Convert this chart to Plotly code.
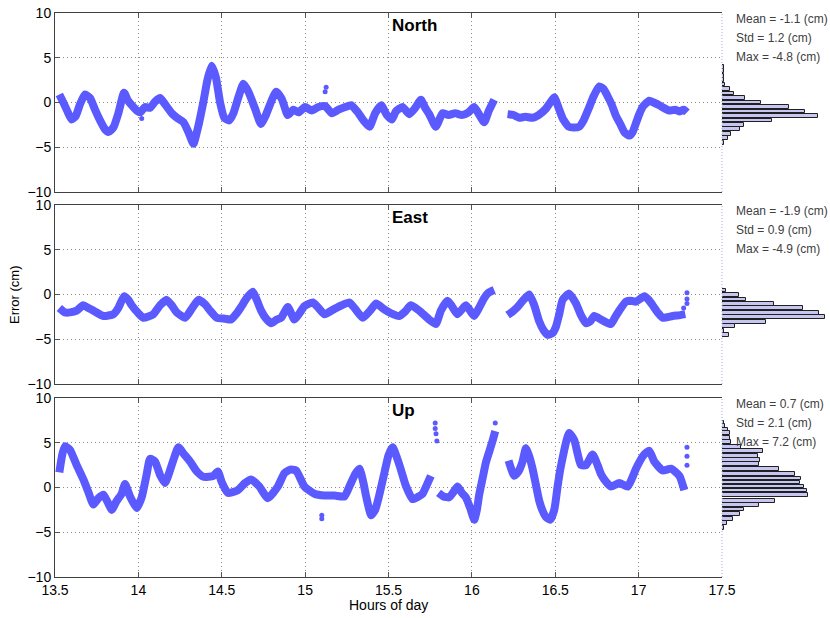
import plotly.graph_objects as go

# ---------------- data ----------------
north_t = [13.526, 13.55, 13.575, 13.60, 13.625, 13.65, 13.68, 13.71, 13.74, 13.77, 13.80, 13.82, 13.85, 13.88,
           13.914, 13.935, 13.96, 13.99, 14.01, 14.04, 14.07, 14.10, 14.13, 14.16, 14.20, 14.23, 14.27, 14.30,
           14.33, 14.36, 14.39, 14.415, 14.44, 14.465, 14.49, 14.515, 14.545, 14.57, 14.60, 14.63, 14.66, 14.70,
           14.735, 14.76, 14.79, 14.826, 14.86, 14.896, 14.93, 14.96, 15.0, 15.04, 15.08, 15.12, 15.16, 15.20,
           15.24, 15.276, 15.316, 15.35, 15.386, 15.42, 15.456, 15.49, 15.52, 15.544, 15.584, 15.624, 15.66,
           15.694, 15.72, 15.744, 15.784, 15.824, 15.86, 15.90, 15.94, 15.98, 16.014, 16.045, 16.074, 16.10,
           16.134, None, 16.214, 16.25, 16.284, 16.32, 16.364, 16.40, 16.444, 16.47, 16.494, 16.52, 16.545,
           16.58, 16.61, 16.644, 16.67, 16.70, 16.73, 16.764, 16.79, 16.814, 16.84, 16.864, 16.89, 16.914,
           16.944, 16.964, 16.984, 17.004, 17.024, 17.064, 17.09, 17.124, 17.15, 17.184, 17.22, 17.244, 17.27, 17.29]
north_v = [0.9, 0.0, -1.0, -1.9, -1.5, -0.2, 0.9, 0.5, -0.8, -2.0, -3.0, -3.3, -2.8, -1.2,
           1.1, 0.3, -0.3, -0.9, -1.1, -0.5, -0.6, 0.1, 0.5, -0.2, -1.2, -1.7, -2.2, -3.3,
           -4.6, -2.6, 0.1, 2.6, 4.1, 2.8, 0.0, -1.7, -2.0, -1.2, 0.6, 2.1, 1.2, -0.7,
           -2.4, -1.6, -0.2, 1.2, 0.4, -1.4, -0.8, -1.1, -0.5, -0.9, -0.5, -0.4, -1.2, -0.8,
           -0.5, -0.3, -1.1, -2.0, -2.7, -1.2, -0.3, -1.4, -1.9, -1.0, -0.5, -1.3, -0.6,
           0.3, -0.6, -1.3, -2.7, -1.2, -1.4, -1.2, -1.4, -1.1, -0.5, -1.4, -2.2, -1.0,
           0.3, None, -1.3, -1.4, -1.7, -1.6, -1.7, -1.4, -0.7, 0.0, 0.6, -0.6, -1.8,
           -2.7, -2.8, -2.7, -2.0, -0.7, 0.7, 1.8, 1.5, 0.7, -0.3, -1.5, -2.4, -3.3,
           -3.7, -3.3, -2.3, -1.3, -0.5, 0.2, 0.0, -0.3, -0.6, -0.9, -0.8, -1.0, -0.8, -1.1]

east_t = [13.526, 13.56, 13.59, 13.63, 13.67, 13.70, 13.73, 13.79, 13.85, 13.88, 13.914, 13.94, 13.96, 14.0,
          14.03, 14.09, 14.13, 14.17, 14.20, 14.23, 14.28, 14.32, 14.36, 14.40, 14.43, 14.47, 14.52, 14.556,
          14.59, 14.616, 14.65, 14.686, 14.71, 14.736, 14.766, 14.796, 14.83, 14.856, 14.896, 14.936, 14.966,
          14.996, 15.046, 15.08, 15.116, 15.176, 15.22, 15.266, 15.30, 15.346, 15.39, 15.426, 15.47, 15.516,
          15.564, 15.60, 15.634, 15.684, 15.744, 15.784, 15.814, 15.854, 15.88, 15.914, 15.964, 16.014, 16.04,
          16.074, 16.10, 16.134, None, 16.214, 16.244, 16.274, 16.31, 16.344, 16.374, 16.404, 16.43, 16.454,
          16.484, 16.504, 16.524, 16.544, 16.584, 16.624, 16.654, 16.684, 16.71, 16.734, 16.784, 16.834, 16.86,
          16.884, 16.924, 16.954, 16.984, 17.034, 17.06, 17.084, 17.114, 17.144, 17.204, 17.25, 17.28]
east_v = [-1.5, -2.0, -2.0, -1.8, -1.2, -1.5, -1.8, -2.4, -2.2, -1.5, -0.2, -0.6, -1.2, -2.1,
          -2.6, -2.2, -1.2, -0.6, -1.2, -2.0, -2.6, -1.6, -0.6, -1.1, -1.8, -2.6, -2.7, -2.8,
          -2.1, -1.4, -0.4, 0.3, -0.6, -1.8, -2.7, -3.2, -2.8, -2.6, -1.4, -2.8, -2.1,
          -1.3, -0.9, -1.5, -2.2, -1.6, -1.2, -0.9, -1.6, -2.6, -1.8, -1.0, -1.6, -2.1,
          -2.4, -1.9, -1.2, -1.8, -2.8, -3.3, -1.8, -0.7, -1.3, -2.2, -1.2, -2.4, -1.6,
          -0.4, 0.2, 0.5, None, -2.3, -1.9, -1.4, -0.6, 0.0, -1.2, -3.0, -4.0, -4.5,
          -4.3, -3.6, -2.2, -0.6, 0.1, -1.0, -2.3, -3.2, -3.0, -2.4, -2.9, -3.3, -2.5,
          -1.8, -0.8, -0.7, -0.8, -0.2, -0.6, -1.2, -2.0, -2.6, -2.4, -2.3, -2.2]

up_t = [13.526, 13.545, 13.56, 13.59, 13.63, 13.67, 13.70, 13.73, 13.76, 13.79, 13.82, 13.84, 13.87, 13.90,
        13.92, 13.95, 13.99, 14.02, 14.05, 14.07, 14.10, 14.13, 14.16, 14.20, 14.24, 14.27, 14.31, 14.35,
        14.39, 14.45, 14.476, 14.50, 14.536, 14.596, 14.64, 14.676, 14.726, 14.776, 14.836, 14.876, 14.91,
        14.946, 14.996, 15.056, 15.116, 15.176, 15.236, 15.27, 15.30, 15.326, 15.35, 15.366, 15.396, 15.42,
        15.44, 15.476, 15.50, 15.524, 15.564, 15.604, 15.644, 15.68, 15.704, 15.73, 15.754, None, 15.80,
        15.83, 15.864, 15.89, 15.914, 15.94, 15.964, 15.99, 16.014, 16.03, 16.044, 16.064, 16.084, 16.104,
        16.124, 16.14, None, 16.22, 16.254, 16.28, 16.304, 16.324, 16.344, 16.364, 16.384, 16.404, 16.424,
        16.444, 16.47, 16.494, 16.514, 16.53, 16.544, 16.564, 16.584, 16.614, 16.634, 16.654, 16.684, 16.724,
        16.754, 16.774, 16.794, 16.834, 16.884, 16.934, 16.96, 16.984, 17.034, 17.064, 17.094, 17.144, 17.194,
        17.244, 17.274]
up_v = [1.7, 3.8, 4.6, 4.2, 2.5, 0.9, -0.5, -1.9, -1.2, -0.8, -1.8, -2.5, -1.5, -0.7,
        0.4, -1.0, -2.3, -1.1, 1.5, 3.2, 2.9, 1.4, 0.5, 2.5, 4.5, 3.8, 2.9, 1.8,
        1.2, 1.3, 1.8, 0.6, -0.6, -0.3, 0.5, 0.9, 0.1, -1.2, 0.1, 1.6, 2.0,
        1.9, 0.1, -0.7, -0.9, -0.9, -1.0, 0.3, 1.5, 2.1, 0.5, -1.0, -3.1, -2.5,
        -1.2, 1.7, 3.6, 4.5, 2.6, 0.2, -1.3, -1.0, -0.7, 0.3, 1.3, None, -0.6,
        -1.0, -1.1, -0.5, 0.1, -0.6, -1.1, -2.3, -3.6, -2.5, -0.8, 1.0, 2.8, 4.0,
        5.2, 6.3, None, 3.0, 1.3, 1.8, 2.9, 4.4, 3.5, 2.1, 0.3, -1.5, -2.6,
        -3.3, -3.6, -2.5, 0.1, 2.0, 3.3, 5.0, 6.1, 5.3, 3.8, 2.5, 2.5, 3.7,
        2.5, 1.5, 0.9, 0.1, 0.5, 0.1, 1.0, 2.1, 3.7, 4.1, 2.9, 1.9, 2.1,
        1.3, -0.3]

# isolated points away from the main band
north_out_t = [15.126, 15.12, 14.02]
north_out_v = [1.7, 1.2, -1.8]
east_out_t = [17.29, 17.29, 17.29, 17.27]
east_out_v = [0.2, -0.5, -1.0, -1.5]
up_out_t = [15.78, 15.78, 15.785, 15.79, 16.14, 17.29, 17.29, 17.29, 15.1, 15.1]
up_out_v = [7.2, 6.6, 6.0, 5.2, 7.2, 4.5, 3.5, 2.5, -3.1, -3.5]

# histograms: bin centres (cm) and bar lengths (relative counts)
north_bins = [4.0, 3.5, 3.0, 2.5, 2.0, 1.5, 1.0, 0.5, 0.0, -0.5, -1.0, -1.5, -2.0, -2.5, -3.0, -3.5, -4.0, -4.5]
north_counts = [2, 2, 2, 2, 3, 8, 12, 23, 39, 67, 83, 96, 50, 22, 18, 9, 6, 2]
east_bins = [0.45, -0.05, -0.55, -1.05, -1.55, -2.05, -2.55, -3.05, -3.55, -4.05, -4.55]
east_counts = [4, 17, 24, 52, 81, 97, 103, 44, 13, 2, 7]
up_bins = [7.27, 6.85, 6.48, 6.07, 5.5, 5.06, 4.53, 4.12, 3.56, 3.11, 2.62, 2.06, 1.54, 1.01, 0.56,
           0.11, -0.34, -0.86, -1.5, -1.99, -2.47, -2.96, -3.48, -4.0, -4.5]
up_counts = [2, 3, 6, 8, 8, 9, 19, 41, 36, 38, 37, 57, 73, 79, 78, 82, 85, 86, 53, 37, 22, 18, 11, 5, 2]

titles = ["North", "East", "Up"]
stats = [["Mean = -1.1 (cm)", "Std = 1.2 (cm)", "Max = -4.8 (cm)"],
         ["Mean = -1.9 (cm)", "Std = 0.9 (cm)", "Max = -4.9 (cm)"],
         ["Mean = 0.7 (cm)", "Std = 2.1 (cm)", "Max = 7.2 (cm)"]]
x_ticks = [13.5, 14, 14.5, 15, 15.5, 16, 16.5, 17, 17.5]
x_ticktext = ["13.5", "14", "14.5", "15", "15.5", "16", "16.5", "17", "17.5"]
y_ticks = [-10, -5, 0, 5, 10]

# ---------------- figure ----------------
W, H = 830, 618
FONT = "Liberation Sans, Arial, Helvetica, sans-serif"
BLUE = "#5a5aff"
GRID = "#8c8c8c"

x0, x1 = 55 / W, 722 / W
panels_px = [(13, 192), (205, 384), (398, 577)]
doms = [[1 - b / H, 1 - t / H] for (t, b) in panels_px]

series = [(north_t, north_v, north_out_t, north_out_v, north_bins, north_counts),
          (east_t, east_v, east_out_t, east_out_v, east_bins, east_counts),
          (up_t, up_v, up_out_t, up_out_v, up_bins, up_counts)]

fig = go.Figure()
layout = dict(width=W, height=H, margin=dict(l=0, r=0, t=0, b=0),
              paper_bgcolor="white", plot_bgcolor="white", showlegend=False,
              font=dict(family=FONT, size=14, color="black"), bargap=0)
annotations = []
shapes = []

for i, (t, v, ot, ov, bins, counts) in enumerate(series):
    n = i + 1
    xa = "x" if n == 1 else f"x{n}"
    ya = "y" if n == 1 else f"y{n}"
    hx, hy = f"x{n + 3}", f"y{n + 3}"

    fig.add_trace(go.Scatter(x=t, y=v, mode="lines", xaxis=xa, yaxis=ya,
                             line=dict(color=BLUE, width=8, shape="spline", smoothing=0.5),
                             connectgaps=False, hoverinfo="skip"))
    fig.add_trace(go.Scatter(x=ot, y=ov, mode="markers", xaxis=xa, yaxis=ya,
                             marker=dict(color=BLUE, size=5), hoverinfo="skip"))
    fig.add_trace(go.Bar(x=counts, y=bins, orientation="h", xaxis=hx, yaxis=hy, width=0.42,
                         marker=dict(color="#c6c6f0", line=dict(color="#202020", width=1))))

    layout["xaxis" if n == 1 else f"xaxis{n}"] = dict(
        domain=[x0, x1], range=[13.5, 17.5], anchor=ya, tickvals=x_ticks, ticktext=x_ticktext,
        ticks="inside", ticklen=5, tickcolor="#555555", showline=True, linecolor="#404040", linewidth=1,
        mirror="ticks", showgrid=True, gridcolor=GRID, griddash="1px,3px", gridwidth=1,
        zeroline=False, showticklabels=(n == 3), tickfont=dict(size=14), automargin=False)
    layout["yaxis" if n == 1 else f"yaxis{n}"] = dict(
        domain=doms[i], range=[-10, 10], anchor=xa, tickvals=y_ticks,
        ticks="inside", ticklen=5, tickcolor="#555555", showline=True, linecolor="#404040", linewidth=1,
        mirror=False, showgrid=True, gridcolor=GRID, griddash="1px,3px", gridwidth=1,
        zeroline=False, tickfont=dict(size=14), automargin=False)
    layout[f"yaxis{n + 6}"] = dict(
        overlaying=ya, side="right", anchor=xa, range=[-10, 10], tickvals=y_ticks,
        ticks="inside", ticklen=5, tickcolor="#555555", showticklabels=False,
        showgrid=False, showline=False, zeroline=False)
    layout[f"xaxis{n + 3}"] = dict(domain=[x1, 1.0], range=[0, 108], anchor=hy, visible=False)
    layout[f"yaxis{n + 3}"] = dict(domain=doms[i], range=[-10, 10], anchor=hx, visible=False)

    shapes.append(dict(type="line", xref="paper", yref="paper", x0=x1, x1=x1, y0=doms[i][0], y1=doms[i][1],
                       line=dict(color="#a8a8d8", width=1, dash="1px,2px")))

    annotations.append(dict(text=f"<b>{titles[i]}</b>", xref="paper", yref=ya, x=390 / W, y=8.6,
                            xanchor="left", yanchor="middle", showarrow=False,
                            font=dict(size=17, color="black", family=FONT)))
    for k, (txt, yy) in enumerate(zip(stats[i], [9.3, 7.2, 5.1])):
        annotations.append(dict(text=txt, xref="paper", yref=ya, x=734 / W, y=yy,
                                xanchor="left", yanchor="middle", showarrow=False,
                                font=dict(size=12, color="#404040", family=FONT)))

annotations.append(dict(text="Error (cm)", xref="paper", yref="paper", x=15 / W, y=1 - 295 / H,
                        textangle=-90, showarrow=False, xanchor="center", yanchor="middle",
                        font=dict(size=13, color="black", family=FONT)))
annotations.append(dict(text="Hours of day", xref="paper", yref="paper", x=388 / W, y=1 - 605 / H,
                        showarrow=False, xanchor="center", yanchor="middle",
                        font=dict(size=14, color="black", family=FONT)))

layout["annotations"] = annotations
layout["shapes"] = shapes
fig.update_layout(**layout)
fig.write_html("out.html", config={"displayModeBar": False},
               post_script="document.body.style.margin='0px';")
